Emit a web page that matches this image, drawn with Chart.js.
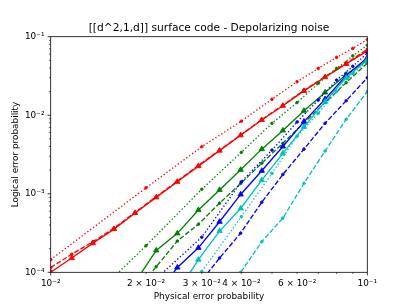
<!DOCTYPE html>
<html lang="en">
<head>
<meta charset="UTF-8">
<title>[[d^2,1,d]] surface code - Depolarizing noise</title>
<script src="https://cdn.jsdelivr.net/npm/chart.js"></script>
<style>
  html, body { margin: 0; padding: 0; background: #fff; }
  #chart { display: block; }
</style>
</head>
<body>
<canvas id="chart" width="409" height="307"></canvas>
<script>
// physical error rates: solid / dashed curves use a log grid, dotted curves a linear grid
var pLog = [0.01, 0.011659, 0.013594, 0.015849, 0.018478, 0.021544, 0.025119, 0.029286,
            0.034145, 0.039811, 0.046416, 0.054117, 0.063096, 0.073564, 0.085770, 0.1];
var pLin = [0.01, 0.02, 0.03, 0.04, 0.05, 0.06, 0.07, 0.08, 0.09, 0.1];

// logical error rates (null = not plotted)
var redSolid    = [1.0e-4, 1.52e-4, 2.35e-4, 3.55e-4, 5.7e-4, 9.0e-4, 1.42e-3, 2.25e-3, 3.54e-3, 5.55e-3, 8.7e-3, 1.32e-2, 2.04e-2, 3.05e-2, 4.5e-2, 6.6e-2];
var redDashed   = [1.15e-4, 1.7e-4, 2.45e-4, 3.65e-4, 5.8e-4, 9.2e-4, 1.45e-3, 2.3e-3, 3.6e-3, 5.6e-3, 8.8e-3, 1.34e-2, 2.08e-2, 3.1e-2, 4.6e-2, 6.9e-2];
var redDotted   = [1.45e-4, 1.19e-3, 3.97e-3, 8.4e-3, 1.6e-2, 2.67e-2, 3.95e-2, 5.45e-2, 7.1e-2, 9.2e-2];

var greenSolid  = [null, null, null, null, 7.5e-5, 1.9e-4, 3.13e-4, 6.2e-4, 1.12e-3, 2.02e-3, 3.7e-3, 6.4e-3, 1.14e-2, 1.95e-2, 3.3e-2, 5.0e-2];
var greenDashed = [null, null, null, null, 5.5e-5, 1.18e-4, 2.5e-4, 4.1e-4, 7.6e-4, 1.35e-3, 2.45e-3, 4.4e-3, 8.0e-3, 1.45e-2, 2.6e-2, 4.6e-2];
var greenDotted = [1.45e-5, 2.18e-4, 1.14e-3, 3.37e-3, 7.9e-3, 1.45e-2, 2.55e-2, 3.95e-2, 5.7e-2, 7.8e-2];

var blueSolid   = [null, null, null, null, null, 5.0e-5, 1.15e-4, 2.05e-4, 4.4e-4, 9.8e-4, 1.96e-3, 4.0e-3, 8.3e-3, 1.6e-2, 3.2e-2, 5.4e-2];
var blueDashed  = [null, null, null, null, null, null, null, 7.0e-5, 1.52e-4, 3.15e-4, 7.8e-4, 1.76e-3, 3.7e-3, 7.9e-3, 1.53e-2, 3.0e-2];
var blueDotted  = [null, 6.3e-5, 2.8e-4, 1.42e-3, 3.6e-3, 8.2e-3, 1.56e-2, 2.8e-2, 4.2e-2, 6.2e-2];

var cyanSolid   = [null, null, null, null, null, null, 5.6e-5, 1.45e-4, 3.35e-4, 6.5e-4, 1.49e-3, 3.27e-3, 7.1e-3, 1.49e-2, 3.0e-2, 5.1e-2];
var cyanDashed  = [null, null, null, null, null, null, null, null, 3.5e-5, 1.0e-4, 2.45e-4, 4.9e-4, 1.36e-3, 3.5e-3, 8.9e-3, 2.0e-2];
var cyanDotted  = [null, 1.4e-5, 1.02e-4, 5.1e-4, 1.82e-3, 5.4e-3, 1.06e-2, 2.0e-2, 3.4e-2, 4.8e-2];

// tick positions and labels
var xTickValues = [0.01, 0.02, 0.03, 0.04, 0.05, 0.06, 0.07, 0.08, 0.09, 0.1];
var xTickLabels = ['10\u207B\u00B2', '2 \u00D7 10\u207B\u00B2', '3 \u00D7 10\u207B\u00B2', '4 \u00D7 10\u207B\u00B2', '',
                   '6 \u00D7 10\u207B\u00B2', '', '', '', '10\u207B\u00B9'];
var yTickValues = [1e-4, 1e-3, 1e-2, 1e-1];
var yTickLabels = ['10\u207B\u2074', '10\u207B\u00B3', '10\u207B\u00B2', '10\u207B\u00B9'];
var xMajor = [0.01, 0.1];
var yMajor = [1e-4, 1e-3, 1e-2, 1e-1];
var yMinor = [2e-4, 3e-4, 4e-4, 5e-4, 6e-4, 7e-4, 8e-4, 9e-4,
              2e-3, 3e-3, 4e-3, 5e-3, 6e-3, 7e-3, 8e-3, 9e-3,
              2e-2, 3e-2, 4e-2, 5e-2, 6e-2, 7e-2, 8e-2, 9e-2];

var chartTitle = '[[d^2,1,d]] surface code - Depolarizing noise';

var RED = '#ff0000', GREEN = '#008000', BLUE = '#0000ff', CYAN = '#00bfbf';

function series(xs, ys, color, style) {
    var pts = xs.map(function (x, i) { return { x: x, y: ys[i] }; });
    var ds = {
        data: pts,
        showLine: true,
        borderColor: color,
        backgroundColor: color,
        borderWidth: 1.33,
        pointBorderWidth: 0.9,
        pointHoverRadius: 0,
        tension: 0
    };
    if (style === 'solid') {
        ds.pointStyle = 'triangle';
        ds.pointRadius = 3.1;
    } else {
        ds.pointStyle = 'circle';
        ds.pointRadius = 1.3;
        ds.borderDash = style === 'dashed' ? [4.9, 2.1] : [1.33, 2.2];
    }
    return ds;
}

var datasets = [
    series(pLog, redSolid, RED, 'solid'),
    series(pLog, redDashed, RED, 'dashed'),
    series(pLin, redDotted, RED, 'dotted'),
    series(pLog, greenSolid, GREEN, 'solid'),
    series(pLog, greenDashed, GREEN, 'dashed'),
    series(pLin, greenDotted, GREEN, 'dotted'),
    series(pLog, blueSolid, BLUE, 'solid'),
    series(pLog, blueDashed, BLUE, 'dashed'),
    series(pLin, blueDotted, BLUE, 'dotted'),
    series(pLog, cyanSolid, CYAN, 'solid'),
    series(pLog, cyanDashed, CYAN, 'dashed'),
    series(pLin, cyanDotted, CYAN, 'dotted')
];
// later series on top, like matplotlib
datasets.forEach(function (d, i) { d.order = -i; });

// frame, outward tick marks (major / minor like matplotlib) and the title centred on the axes
var frameTicks = {
    id: 'frameTicks',
    afterDraw: function (chart) {
        var ctx = chart.ctx, a = chart.chartArea;
        var xs = chart.scales.x, ys = chart.scales.y;
        ctx.save();
        ctx.strokeStyle = '#000';
        function tick(x1, y1, x2, y2, w) {
            ctx.lineWidth = w;
            ctx.beginPath();
            ctx.moveTo(x1, y1);
            ctx.lineTo(x2, y2);
            ctx.stroke();
        }
        xTickValues.forEach(function (v) {
            var px = xs.getPixelForValue(v);
            var major = xMajor.indexOf(v) >= 0;
            tick(px, a.bottom, px, a.bottom + (major ? 3.1 : 1.8), major ? 0.8 : 0.6);
        });
        yMajor.forEach(function (v) {
            var py = ys.getPixelForValue(v);
            tick(a.left, py, a.left - 3.1, py, 0.8);
        });
        yMinor.forEach(function (v) {
            var py = ys.getPixelForValue(v);
            tick(a.left, py, a.left - 1.8, py, 0.6);
        });
        ctx.lineWidth = 0.8;
        ctx.strokeRect(a.left, a.top, a.right - a.left, a.bottom - a.top);

        ctx.fillStyle = '#000';
        ctx.font = '10.67px "DejaVu Sans"';
        ctx.textAlign = 'center';
        ctx.textBaseline = 'alphabetic';
        ctx.fillText(chartTitle, (a.left + a.right) / 2, a.top - 5.6);
        ctx.restore();
    }
};

Chart.defaults.font.family = 'DejaVu Sans';
Chart.defaults.color = '#000';

new Chart(document.getElementById('chart'), {
    type: 'scatter',
    data: { datasets: datasets },
    options: {
        responsive: false,
        animation: false,
        devicePixelRatio: 1,
        layout: { padding: { left: 0, right: 41.7, top: 36.7, bottom: 0 } },
        plugins: {
            legend: { display: false },
            tooltip: { enabled: false },
            title: { display: false }
        },
        scales: {
            x: {
                type: 'logarithmic',
                min: 0.01,
                max: 0.1,
                grid: { display: false, drawTicks: false },
                border: { display: false },
                afterBuildTicks: function (scale) {
                    scale.ticks = xTickValues.map(function (v) { return { value: v }; });
                },
                afterFit: function (scale) { scale.height = 34.7; },
                ticks: {
                    autoSkip: false,
                    maxRotation: 0,
                    minRotation: 0,
                    padding: 6.2,
                    font: { size: 8.89 },
                    callback: function (value, index) { return xTickLabels[index]; }
                },
                title: {
                    display: true,
                    text: 'Physical error probability',
                    font: { size: 8.89 },
                    padding: { top: 0, bottom: 4.8 }
                }
            },
            y: {
                type: 'logarithmic',
                min: 1e-4,
                max: 0.1,
                grid: { display: false, drawTicks: false },
                border: { display: false },
                afterBuildTicks: function (scale) {
                    scale.ticks = yTickValues.map(function (v) { return { value: v }; });
                },
                afterFit: function (scale) { scale.width = 50.7; },
                ticks: {
                    autoSkip: false,
                    padding: 6.2,
                    font: { size: 8.89 },
                    callback: function (value, index) { return yTickLabels[index]; }
                },
                title: {
                    display: true,
                    text: 'Logical error probability',
                    font: { size: 8.89 },
                    padding: { top: 10, bottom: 0 }
                }
            }
        }
    },
    plugins: [frameTicks]
});
</script>
</body>
</html>
